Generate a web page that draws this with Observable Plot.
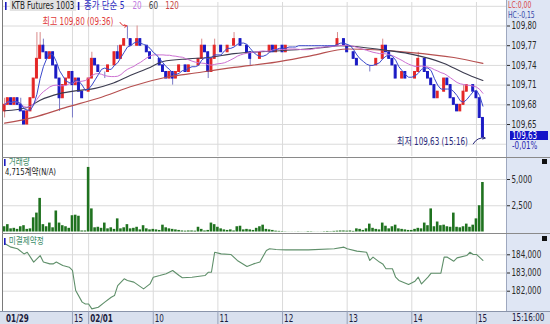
<!DOCTYPE html>
<html><head><meta charset="utf-8">
<script src="https://cdn.jsdelivr.net/npm/d3@7"></script>
<script src="https://cdn.jsdelivr.net/npm/@observablehq/plot@0.6"></script>
<style>
body{margin:0;background:#fff;}
#wrap{position:relative;width:550px;height:324px;overflow:hidden;font-family:"Liberation Sans Narrow","DejaVu Sans Condensed","Noto Sans CJK KR",sans-serif;font-size:10px;}
.abs{position:absolute;white-space:nowrap;}
.t{line-height:9px;}
.sq{transform:scaleX(0.8);transform-origin:0 0;}
.mk{display:inline-block;width:2px;height:8px;background:#1c1cc0;vertical-align:-1px;}
</style></head><body><div id="wrap"></div>
<script>
// ---------- data ----------
const productName = "KTB Futures 1003";
const maLabel = "종가 단순";
const maPeriods = [5, 20, 60, 120];
const maColors = ["#3a48cc", "#cc70d2", "#3c3c50", "#b65050"];
const legendColors = ["#2c2cbf", "#c07ae0", "#444444", "#c84848"];

// 3-minute bars: slots 0-25 = 01/29 (13:57-15:12), slots 26-148 = 02/01 (09:00-15:06)
const closes = [
109.68,109.69,109.68,109.69,109.68,109.67,109.65,109.67,109.69,109.72,
109.75,109.77,109.76,109.75,109.76,109.74,109.72,109.69,109.71,109.72,
109.73,109.71,109.72,109.70,109.69,109.69,109.72,109.75,109.74,109.73,
109.73,109.73,109.74,109.74,109.76,109.75,109.77,109.78,109.78,109.77,
109.77,109.78,109.77,109.77,109.76,109.75,109.75,109.75,109.74,109.73,
109.72,109.73,109.72,109.73,109.74,109.74,109.73,109.74,109.74,109.74,
109.75,109.77,109.76,109.73,109.75,109.77,109.77,109.76,109.76,109.77,
109.77,109.78,109.78,109.77,109.77,109.76,109.75,109.75,109.75,109.76,
109.76,109.76,109.77,109.76,109.77,109.77,109.76,109.77,109.77,109.77,
109.77,109.77,109.77,109.77,109.77,109.77,109.77,109.77,109.77,109.77,
109.77,109.77,109.77,109.78,109.78,109.77,109.76,109.76,109.75,109.74,
109.74,109.74,109.74,109.74,109.74,109.75,109.75,109.77,109.76,109.75,
109.74,109.72,109.72,109.73,109.72,109.72,109.72,109.73,109.75,109.75,
109.73,109.72,109.71,109.69,109.70,109.70,109.72,109.71,109.69,109.68,
109.67,109.68,109.70,109.71,109.71,109.70,109.69,109.66,109.63];
const dayOpens = [[0, 109.67], [26, 109.70]];
const wickHighs = [[0,109.69],[5,109.69],[10,109.79],[11,109.79],[12,109.78],[27,109.76],[35,109.77],
  [38,109.80],[41,109.80],[61,109.78],[65,109.78],[71,109.79],[103,109.79],[117,109.78],[128,109.76],[142,109.71]];
const wickLows = [[0,109.66],[17,109.67],[21,109.66],[31,109.72],[52,109.71],[63,109.72],[76,109.74],[113,109.73],[148,109.63]];

const volumes = [
500,700,300,350,250,500,600,250,300,1350,
1800,3200,700,500,850,400,2000,850,600,500,
350,1550,1600,1500,100,100,6150,2200,400,450,
350,850,300,400,250,1250,300,400,700,300,
350,450,200,600,300,200,250,200,150,650,
400,300,250,200,150,100,80,100,100,80,
450,250,100,150,850,700,450,300,200,150,
200,100,500,550,200,250,200,150,350,500,
650,250,200,150,80,60,40,20,10,10,
10,20,10,10,40,30,10,10,10,30,
50,30,60,80,100,100,80,100,60,300,
250,150,300,750,350,250,200,850,550,300,
500,650,300,250,200,150,150,250,350,300,
850,600,2200,500,950,600,650,500,450,1800,
450,400,500,750,450,650,1250,2500,4715];

const ma60Samples = [[0,109.671],[7,109.676],[11,109.687],[17,109.697],[23,109.702],[28,109.705],[33,109.712],
  [39,109.725],[45,109.737],[49,109.746],[57,109.750],[63,109.752],[71,109.758],[84,109.762],[98,109.767],
  [104,109.770],[118,109.763],[125,109.758],[136,109.743],[142,109.729],[148,109.717]];
const ma120Samples = [[0,109.652],[9,109.661],[19,109.676],[29,109.690],[40,109.709],[50,109.722],[57,109.727],
  [71,109.737],[84,109.745],[95,109.755],[106,109.765],[125,109.760],[139,109.752],[148,109.743]];

const oiSamples = [[0,184620],[2,184420],[4,184330],[6,184050],[7,184140],[9,183600],[11,183960],[12,183600],
  [14,183500],[15,183500],[16,183600],[18,183410],[20,183320],[21,183140],[22,182040],[24,181400],[25,181300],
  [26,181300],[27,181030],[29,181120],[31,181400],[33,181670],[34,181760],[35,182310],[37,182680],[38,182590],
  [40,182500],[43,182130],[45,182400],[46,182770],[48,182860],[50,182960],[52,183140],[54,182860],[55,182740],
  [58,182770],[62,182860],[63,183040],[64,183040],[65,184140],[67,184050],[70,184020],[72,183690],[75,183360],
  [77,183500],[79,183600],[81,184240],[82,184330],[84,184290],[87,184270],[94,184270],[102,184330],[105,184420],
  [106,184330],[109,184200],[112,184140],[113,183690],[114,183870],[116,183600],[117,183500],[118,183230],
  [120,183230],[121,182770],[122,182590],[125,182370],[127,182550],[128,182770],[129,182400],[131,182770],
  [132,182990],[135,182990],[136,183870],[137,183870],[139,183650],[140,183830],[143,183960],[144,184140],
  [145,184020],[146,184020],[148,183690]];

const priceTicks = [109.65, 109.68, 109.71, 109.74, 109.77, 109.80];
const priceGrid = [109.62, 109.65, 109.68, 109.71, 109.74, 109.77, 109.80, 109.83];
const volumeTicks = [2500, 5000];
const oiTicks = [182000, 183000, 184000];
const timeTickSlots = [0, 21, 26, 46, 66, 86, 106, 126, 146];
const timeTickLabels = ["01/29", "15", "02/01", "10", "11", "12", "13", "14", "15"];
const highTime = "09:36", lowTime = "15:16", lastStamp = "15:16:00";
const lastPrice = 109.63, changePct = -0.01, lcValue = 0.00, hcValue = -0.15;
const volumeTitle = "거래량", volumeUnit = "계약(N/A)", oiTitle = "미결제약정";

// ---------- build ----------
const FONT = '"Liberation Sans Narrow","DejaVu Sans Condensed","Noto Sans CJK KR",sans-serif';
const UP = "#e42626", DN = "#1a1ac4", UPW = "#d98a8a", DNW = "#7a7ac6", GRID = "#dadada";
const fmtDec = v => v.toFixed(2).replace(".", ",");
const fmtInt = d3.format(",");

const hiMap = new Map(wickHighs), loMap = new Map(wickLows), openMap = new Map(dayOpens);
const bars = closes.map((c, i) => {
  const o = openMap.has(i) ? openMap.get(i) : closes[i - 1];
  const hi = Math.max(o, c, hiMap.has(i) ? hiMap.get(i) : -Infinity);
  const lo = Math.min(o, c, loMap.has(i) ? loMap.get(i) : Infinity);
  return {slot: i, open: o, close: c, high: hi, low: lo, dir: c > o ? 1 : (c < o ? -1 : 0), volume: volumes[i]};
});
const hiBar = d3.greatest(bars, d => d.high);
const loBar = d3.least(bars, d => d.low);
const ticks = timeTickSlots.map((s, i) => ({slot: s, label: timeTickLabels[i], bold: timeTickLabels[i].includes("/")}));

const X = {domain: [-0.34, 155.3], axis: null};
const style = {background: "transparent", fontFamily: FONT, fontSize: "10px", color: "#2a2a2a", overflow: "visible"};
const common = {width: 550, marginLeft: 3, marginRight: 44, style};
const vGrid = Plot.ruleX(timeTickSlots.slice(1), {stroke: GRID});

const pricePlot = Plot.plot({
  ...common, height: 157, marginTop: 2, marginBottom: 1,
  x: X,
  y: {domain: [109.6013, 109.8358], axis: "right", ticks: priceTicks, tickFormat: fmtDec, tickSize: 3, tickPadding: 2, label: null},
  marks: [
    Plot.ruleY(priceGrid, {stroke: GRID}),
    vGrid,
    Plot.ruleX(bars, {filter: d => d.dir > 0, x: "slot", y1: "low", y2: "high", stroke: UPW}),
    Plot.ruleX(bars, {filter: d => d.dir <= 0, x: "slot", y1: "low", y2: "high", stroke: DNW}),
    Plot.rect(bars, {filter: d => d.dir > 0, x1: d => d.slot - 0.3, x2: d => d.slot + 0.3, y1: "open", y2: "close", fill: UP, stroke: UP, strokeWidth: 1}),
    Plot.rect(bars, {filter: d => d.dir <= 0, x1: d => d.slot - 0.3, x2: d => d.slot + 0.3, y1: "open", y2: "close", fill: DN, stroke: DN, strokeWidth: 1}),
    Plot.line(ma120Samples, {x: d => d[0], y: d => d[1], curve: "monotone-x", stroke: maColors[3], strokeWidth: 1.2}),
    Plot.line(ma60Samples, {x: d => d[0], y: d => d[1], curve: "monotone-x", stroke: maColors[2], strokeWidth: 1.1}),
    Plot.lineY(bars, Plot.windowY({k: maPeriods[1], anchor: "end"}, {x: "slot", y: "close", stroke: maColors[1], strokeWidth: 1})),
    Plot.lineY(bars, Plot.windowY({k: maPeriods[0], anchor: "end"}, {x: "slot", y: "close", stroke: maColors[0], strokeWidth: 1})),
    Plot.text([hiBar], {x: "slot", y: "high", text: d => `최고 ${fmtDec(d.high)} (${highTime})`, textAnchor: "end", dx: -14, dy: -4, fill: "#e03a3a", fontSize: 10}),
    Plot.arrow([hiBar], {x1: d => d.slot - 2.3, y1: d => d.high + 0.0055, x2: d => d.slot - 0.2, y2: d => d.high + 0.0003, bend: -35, stroke: "#e03a3a", strokeWidth: 1, headLength: 4}),
    Plot.text([loBar], {x: "slot", y: "low", text: d => `최저 ${fmtDec(d.low)} (${lowTime})`, textAnchor: "end", dx: -15, dy: 4.5, fill: "#2a2a7a", fontSize: 10}),
    Plot.arrow([loBar], {x1: d => d.slot - 3, y1: d => d.low - 0.0095, x2: d => d.slot + 0.7, y2: d => d.low - 0.0006, bend: 35, stroke: "#2a2a7a", strokeWidth: 1, headLength: 4})
  ]
});

const volPlot = Plot.plot({
  ...common, height: 77, marginTop: 1, marginBottom: 2.5,
  x: X,
  y: {domain: [0, 7000], axis: "right", ticks: volumeTicks, tickFormat: fmtInt, tickSize: 3, tickPadding: 2, label: null},
  marks: [
    Plot.ruleY(volumeTicks, {stroke: GRID}),
    vGrid,
    Plot.rect(bars, {x1: d => d.slot - 0.4, x2: d => d.slot + 0.4, y1: 0, y2: "volume", fill: "#1f721f"})
  ]
});

const oiPlot = Plot.plot({
  ...common, height: 77, marginTop: 0, marginBottom: 0,
  x: X,
  y: {domain: [180885, 185115], axis: "right", ticks: oiTicks, tickFormat: fmtInt, tickSize: 3, tickPadding: 2, label: null},
  marks: [
    Plot.ruleY(oiTicks, {stroke: GRID}),
    vGrid,
    Plot.line(oiSamples, {x: d => d[0], y: d => d[1], stroke: "#5f8f6a", strokeWidth: 1.1})
  ]
});

const stripPlot = Plot.plot({
  ...common, height: 13, marginTop: 0, marginBottom: 0,
  x: X,
  marks: [
    Plot.ruleX(ticks.slice(1), {x: "slot", stroke: "#97a1b8"}),
    Plot.text(ticks, {filter: d => d.bold, x: "slot", text: "label", textAnchor: "start", dx: 1.5, dy: 1, fontWeight: "bold", fill: "#1b1b3c", fontSize: 10}),
    Plot.text(ticks, {filter: d => !d.bold, x: "slot", text: "label", textAnchor: "start", dx: 1.5, dy: 1, fill: "#1b1b3c", fontSize: 10})
  ]
});

// ---------- layout ----------
const wrap = document.getElementById("wrap");
function box(css, html, cls) {
  const d = document.createElement("div");
  d.className = "abs" + (cls ? " " + cls : "");
  d.style.cssText = css;
  if (html != null) d.innerHTML = html;
  wrap.appendChild(d);
  return d;
}
// backgrounds & frames
box("left:506px;top:0;width:44px;height:311px;background:#dfe6f4;border-left:1px solid #9ea8bf;");
box("left:0;top:311px;width:550px;height:13px;background:#d9e0ee;border-top:1px solid #8a94aa;");
box("left:2px;top:0;width:1px;height:311px;background:#7a7a7a;");
box("left:2px;top:157px;width:548px;height:1px;background:#8a8a8a;");
box("left:2px;top:233px;width:548px;height:1px;background:#8a8a8a;");

// narrow the text the way the reference's small screen font looks
function squeeze(svg) {
  svg.querySelectorAll("text").forEach(t => {
    const L = t.getComputedTextLength();
    if (L > 0) {
      t.setAttribute("textLength", (L * 0.8).toFixed(1));
      t.setAttribute("lengthAdjust", "spacingAndGlyphs");
    }
  });
}
function place(svg, top) {
  svg.style.position = "absolute";
  svg.style.left = "0px";
  svg.style.top = top + "px";
  wrap.appendChild(svg);
  squeeze(svg);
}
place(pricePlot, 0);
place(volPlot, 157);
place(oiPlot, 234);
place(stripPlot, 311);

// header legend
box("left:5px;top:0;height:11px;line-height:11px;",
  `<span class="mk"></span><span style="display:inline-block;margin-left:4px;padding:0 2px;background:#e2e2e2;color:#222">${productName}</span>` +
  `<span class="mk" style="margin-left:2px"></span>` +
  `<span style="margin-left:6px;color:${legendColors[0]};font-size:10.5px">${maLabel} ${maPeriods[0]}</span>` +
  maPeriods.slice(1).map((p, i) => `<span style="color:${legendColors[i + 1]};margin-left:${i ? 9 : 10}px">${p}</span>`).join(""),
  "sq");

// volume / OI titles
box("left:4px;top:157px;", `<span class="mk" style="height:7px"></span><span style="margin-left:4px;color:#3b8b66;font-size:9.5px">${volumeTitle}</span>`, "sq t");
box("left:5px;top:167px;color:#1a1a1a;font-size:9.5px;", fmtInt(volumes[volumes.length - 1]) + volumeUnit, "sq t");
box("left:4px;top:236px;", `<span class="mk" style="height:7px"></span><span style="margin-left:4px;color:#3b8b66;font-size:9.5px">${oiTitle}</span>`, "sq t");
box("left:542px;top:159px;width:5px;height:5px;background:#111;");
box("left:542px;top:236px;width:5px;height:5px;background:#111;");

// right panel texts
box("left:508px;top:0px;color:#d84848;font-size:8.5px;line-height:10px;", "LC:" + fmtDec(lcValue), "sq");
box("left:508px;top:10px;color:#3848a8;font-size:8.5px;line-height:10px;", "HC:" + fmtDec(hcValue), "sq");
box("left:510px;top:131px;width:38px;height:9px;background:#1414c8;", `<span class="abs sq" style="left:2px;top:0;color:#fff;line-height:9px">${fmtDec(lastPrice)}</span>`);
box("left:512px;top:141px;color:#2a2ab0;line-height:9px;", (changePct < 0 ? "-" : "") + fmtDec(Math.abs(changePct)) + "%", "sq");
box("left:512px;top:312px;color:#1b1b3c;line-height:11px;", lastStamp, "sq");
</script></body></html>
